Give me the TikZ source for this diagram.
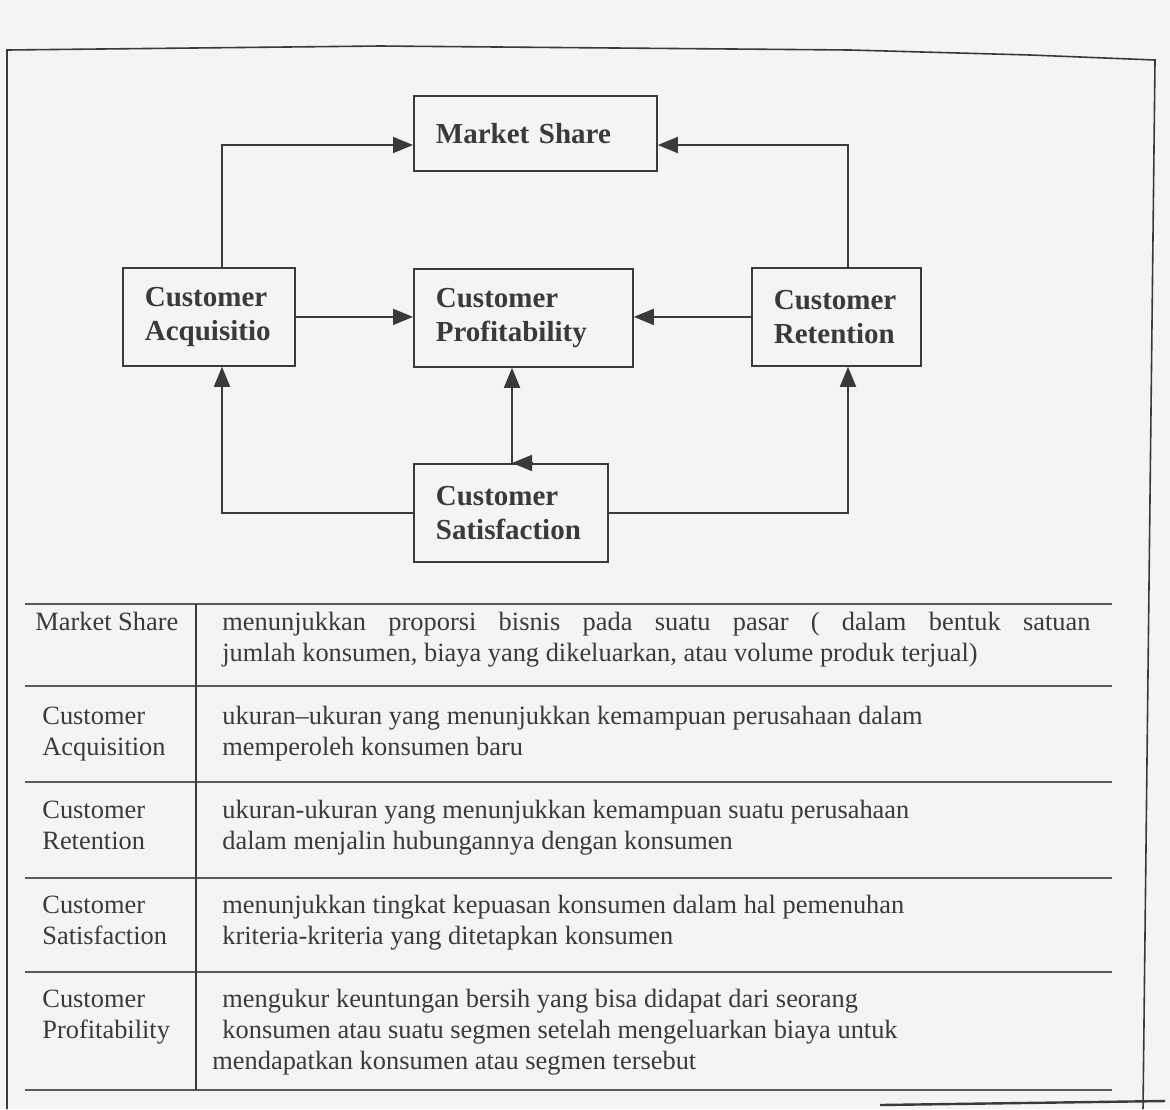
\documentclass[tikz,border=0pt]{standalone}
\usepackage{fontspec}
\setmainfont{Liberation Serif}
\usetikzlibrary{arrows.meta,positioning}
\definecolor{ink}{HTML}{3A3A3A}
\definecolor{paper}{HTML}{F4F4F2}
\tikzset{
  box/.style={draw=ink, line width=0.9pt, rectangle, anchor=north west,
              inner xsep=11pt, inner ysep=0pt, align=left, text=ink,
              font=\bfseries\fontsize{14.5}{17}\selectfont},
  arr/.style={draw=ink, line width=0.9pt, -{Triangle[length=10pt,width=8pt]}},
  rule/.style={draw=ink!85, line width=1.3pt},
  cell/.style={anchor=base west, inner sep=0pt, align=left, text=ink,
               font=\fontsize{13.2}{15.5}\selectfont},
}

\begin{document}
\begin{tikzpicture}[x=0.5pt, y=-0.5pt]
  \fill[paper] (0,0) rectangle (1170,1109);
  \useasboundingbox (0,0) rectangle (1170,1109);

  % frame of the page
  \draw[ink, line width=0.8pt] (7,1109) -- (7,50) -- (380,46) -- (850,50)
        -- (1030,55) -- (1155,60) -- (1143,1109);
  \draw[ink, line width=1.2pt] (880,1105) -- (1165,1101);

  % boxes
  \node[box, text width=99.5pt, minimum height=37.5pt] (share) at (413,95) {Market Share};
  \node[box, text width=64pt,   minimum height=49pt]   (acq)   at (122,267) {Customer\\Acquisitio};
  \node[box, text width=87.5pt, minimum height=49pt]   (prof)  at (413,268) {Customer\\Profitability};
  \node[box, text width=62.5pt, minimum height=49pt]   (ret)   at (751,267) {Customer\\Retention};
  \node[box, text width=75pt,   minimum height=49pt]   (sat)   at (413,463) {Customer\\Satisfaction};

  \coordinate (lx) at (222,145);
  \coordinate (rx) at (848,145);
  \coordinate (mx) at (512,0);

  % connectors
  \draw[arr] (acq.north -| lx) |- (share.west |- lx);
  \draw[arr] (ret.north -| rx) |- (share.east |- rx);
  \draw[arr] (acq.east) -- (acq.east -| prof.west);
  \draw[arr] (ret.west) -- (ret.west -| prof.east);
  \draw[arr] (sat.north -| mx) -- (prof.south -| mx);
  \draw[arr] ([xshift=10pt]sat.north -| mx) -- (sat.north -| mx);
  \draw[arr] (sat.west) -| (acq.south -| lx);
  \draw[arr] (sat.east) -| (ret.south -| rx);

  % table (multi-line cells sit on the baseline of their last line)
  \foreach \y in {604,686,782,878,972,1090}
    \draw[rule] (25,\y) -- (1112,\y);
  \draw[ink, line width=0.8pt] (196,604) -- (196,1090);

  \node[cell] (msname) at (35,630) {Market Share};
  \node[cell, text width=434pt, align=justify] (msdef) at (222,630)
    {menunjukkan proporsi bisnis pada suatu pasar ( dalam bentuk satuan\linebreak
     jumlah konsumen, biaya yang dikeluarkan, atau volume produk terjual)};

  \node[cell] (acqname) at (42,755) {Customer\\Acquisition};
  \node[cell] (acqdef) at (222,755)
    {ukuran--ukuran yang menunjukkan kemampuan perusahaan dalam\\memperoleh konsumen baru};

  \node[cell] (retname) at (42,849) {Customer\\Retention};
  \node[cell] (retdef) at (222,849)
    {ukuran-ukuran yang menunjukkan kemampuan suatu perusahaan\\dalam menjalin hubungannya dengan konsumen};

  \node[cell] (satname) at (42,944) {Customer\\Satisfaction};
  \node[cell] (satdef) at (222,944)
    {menunjukkan tingkat kepuasan konsumen dalam hal pemenuhan\\kriteria-kriteria yang ditetapkan konsumen};

  \node[cell] (profname) at (42,1038) {Customer\\Profitability};
  \node[cell] (profdef) at (222,1069)
    {mengukur keuntungan bersih yang bisa didapat dari seorang\\konsumen atau suatu segmen setelah mengeluarkan biaya untuk\\\hspace*{-5pt}mendapatkan konsumen atau segmen tersebut};
\end{tikzpicture}
\end{document}
